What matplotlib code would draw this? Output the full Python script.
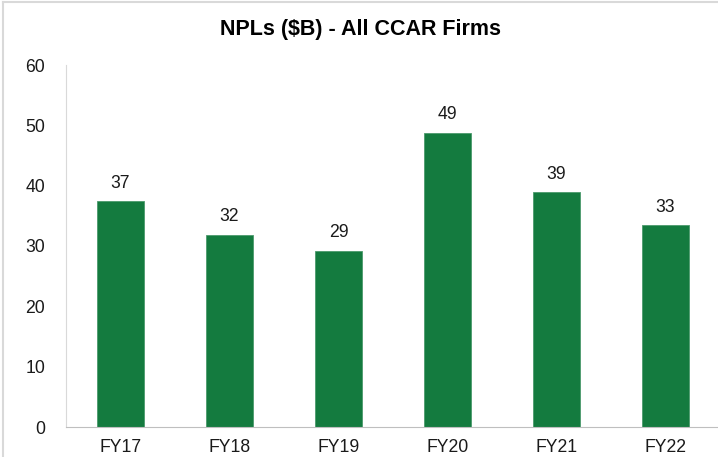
import matplotlib
matplotlib.use('Agg')
import matplotlib.pyplot as plt
from matplotlib.lines import Line2D

plt.rcParams['font.family'] = ['Liberation Sans', 'DejaVu Sans']

years = ['FY17', 'FY18', 'FY19', 'FY20', 'FY21', 'FY22']
npls = [37.4, 31.8, 29.2, 48.7, 38.9, 33.4]
labels = ['37', '32', '29', '49', '39', '33']

green = '#147B3F'
grey = '#BFBFBF'

W, H = 718, 457
fig = plt.figure(figsize=(W / 100, H / 100), dpi=100)
# plot area: left spine at x=66, six 109px category slots, y from 427 (0) to 65 (60)
ax = fig.add_axes([66 / W, 1 - 427 / H, 6 * 109 / W, (427 - 65) / H])

x = range(len(years))
bars = ax.bar(x, npls, width=0.44, color=green, edgecolor='#4C9A6C', linewidth=0.6)
for b, lab in zip(bars, labels):
    ax.annotate(lab, (b.get_x() + b.get_width() / 2, b.get_height()),
                xytext=(0, 7), textcoords='offset points',
                ha='center', va='bottom', fontsize=12.7, color='#1a1a1a')

ax.set_xlim(-0.5, 5.5)
ax.set_ylim(0, 60)
ax.set_yticks(range(0, 61, 10))
ax.set_xticks(list(x))
ax.set_xticklabels(years)
ax.tick_params(axis='both', length=0, labelsize=12.7, colors='#1a1a1a')
ax.tick_params(axis='y', pad=15)
ax.tick_params(axis='x', pad=9)

for s in ['top', 'right']:
    ax.spines[s].set_visible(False)
ax.spines['left'].set_color('#D9D9D9')
ax.spines['bottom'].set_color(grey)

fig.text(360 / W, 1 - 29 / H, 'NPLs ($B) - All CCAR Firms', ha='center', va='center',
         fontsize=15.5, fontweight='bold')

# frame of the original chart box (only left and top edges are in view)
fig.lines.append(Line2D([3 / W, 3 / W], [0, 1 - 2 / H], transform=fig.transFigure,
                        color='#D9D9D9', linewidth=1.5))
fig.lines.append(Line2D([3 / W, 1], [1 - 2 / H, 1 - 2 / H], transform=fig.transFigure,
                        color='#D9D9D9', linewidth=1.5))

fig.savefig('out.png', dpi=100)
